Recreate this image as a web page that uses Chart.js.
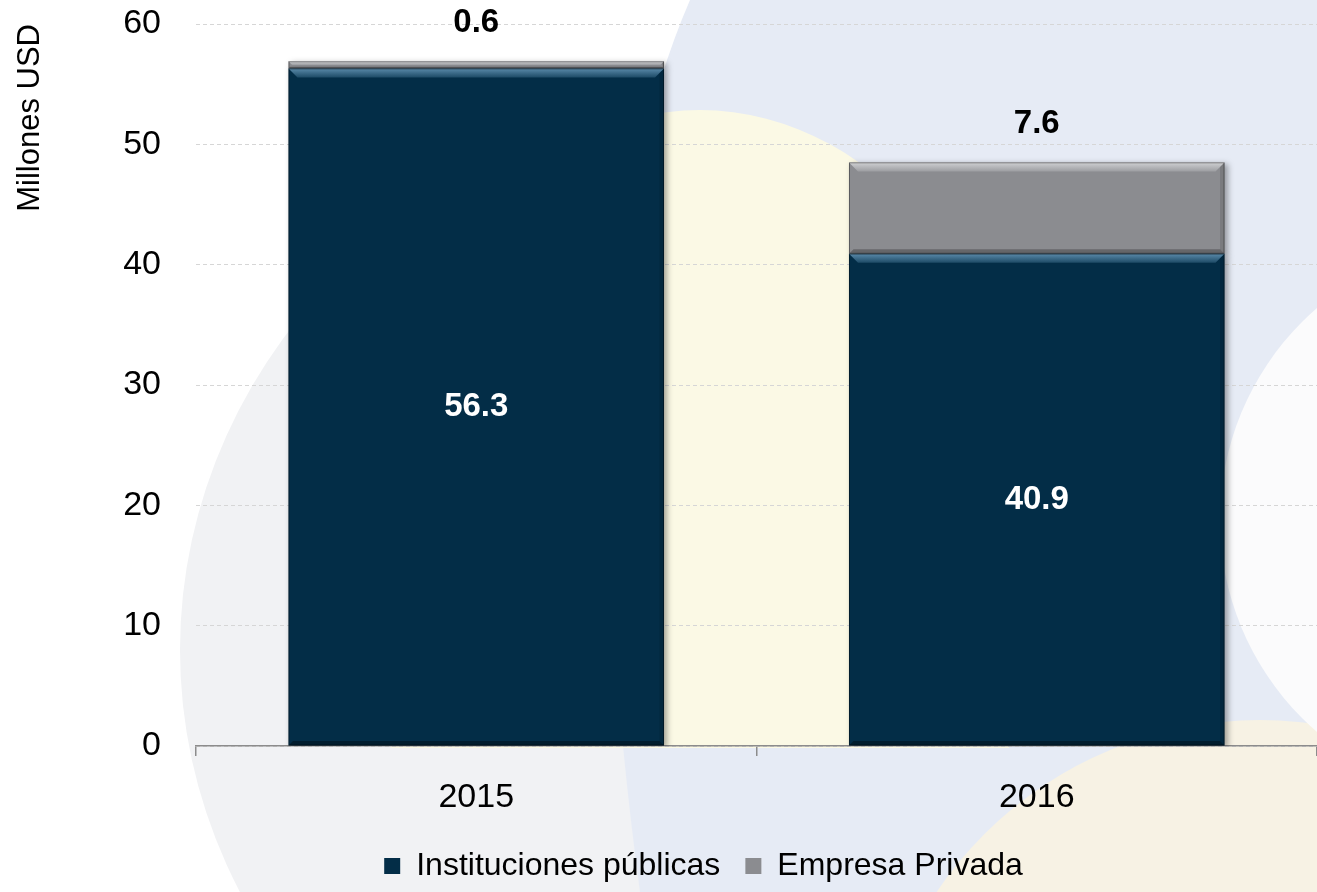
<!DOCTYPE html>
<html>
<head>
<meta charset="utf-8">
<script src="https://cdn.jsdelivr.net/npm/chart.js@4.4.1/dist/chart.umd.min.js"></script>
<style>
  html, body { margin: 0; padding: 0; background: #fff; }
  #wrap { width: 1317px; height: 892px; }
</style>
</head>
<body>
<div id="wrap"><canvas id="chart"></canvas></div>
<script>
const YEARS = ['2015', '2016'];
const PUBLICAS = [56.3, 40.9];
const PRIVADA = [0.6, 7.6];
const SERIES_NAMES = ['Instituciones públicas', 'Empresa Privada'];
const Y_MAX = 60;
const Y_STEP = 10;

const FONT = "'Liberation Sans Narrow', 'Arial Narrow', 'Liberation Sans', sans-serif";
const NAVY = '#032d47';
const GRAY = '#8b8c90';

// fondo decorativo (aprox. de la plantilla)
const bgPlugin = {
  id: 'bg',
  beforeDraw(chart){
    const {ctx, width, height} = chart;
    ctx.save();
    ctx.fillStyle = '#ffffff';
    ctx.fillRect(0, 0, width, height);

    ctx.fillStyle = '#f1f2f4';
    ctx.beginPath(); ctx.ellipse(790, 650, 610, 560, 0, 0, Math.PI*2); ctx.fill();

    ctx.fillStyle = '#e6ebf5';
    ctx.beginPath();
    ctx.moveTo(690, 0); ctx.lineTo(width, 0); ctx.lineTo(width, height); ctx.lineTo(640, height);
    ctx.quadraticCurveTo(560, 300, 690, 0);
    ctx.fill();

    ctx.save();
    ctx.beginPath(); ctx.rect(0, 0, width, 748); ctx.clip();
    ctx.fillStyle = '#fbf9e5';
    ctx.beginPath(); ctx.ellipse(700, 560, 340, 450, 0, 0, Math.PI*2); ctx.fill();
    ctx.restore();

    ctx.fillStyle = '#f7f2e4';
    ctx.beginPath(); ctx.arc(1260, 1110, 390, 0, Math.PI*2); ctx.fill();

    ctx.fillStyle = '#fbfbfc';
    ctx.beginPath(); ctx.arc(1500, 520, 280, 0, Math.PI*2); ctx.fill();
    ctx.restore();
  }
};

// sombra + bisel de las barras
const bevelPlugin = {
  id: 'bevel',
  beforeDatasetsDraw(chart){
    const ctx = chart.ctx;
    ctx.save();
    ctx.shadowColor = 'rgba(0,0,0,0.35)';
    ctx.shadowBlur = 6;
    ctx.shadowOffsetX = 3;
    ctx.shadowOffsetY = 2;
  },
  afterDatasetsDraw(chart){
    const ctx = chart.ctx;
    ctx.restore();
    chart.data.datasets.forEach((ds, di) => {
      const light = di === 0 ? ['#5a8aaa', '#1d4a66'] : ['#d0d1d3', '#9d9ea2'];
      const dark = di === 0 ? 'rgba(0,0,0,0.35)' : 'rgba(0,0,0,0.25)';
      chart.getDatasetMeta(di).data.forEach(el => {
        const p = el.getProps(['x', 'y', 'base', 'width'], true);
        const l = p.x - p.width/2, r = p.x + p.width/2;
        const t = Math.min(p.y, p.base), b = Math.max(p.y, p.base);
        const bv = Math.min(9, (b - t)/2);
        if (bv <= 0) return;
        ctx.save();
        const g = ctx.createLinearGradient(0, t, 0, t + bv);
        g.addColorStop(0, light[0]); g.addColorStop(1, light[1]);
        ctx.fillStyle = g;
        ctx.beginPath();
        ctx.moveTo(l, t); ctx.lineTo(r, t); ctx.lineTo(r - bv, t + bv); ctx.lineTo(l + bv, t + bv); ctx.closePath();
        ctx.fill();
        ctx.fillStyle = 'rgba(0,0,0,0.12)';
        ctx.beginPath();
        ctx.moveTo(r, t); ctx.lineTo(r, b); ctx.lineTo(r - bv/2, b - bv/2); ctx.lineTo(r - bv/2, t + bv/2); ctx.closePath();
        ctx.fill();
        ctx.fillStyle = dark;
        ctx.beginPath();
        ctx.moveTo(l, b); ctx.lineTo(r, b); ctx.lineTo(r - bv/2, b - bv/2); ctx.lineTo(l + bv/2, b - bv/2); ctx.closePath();
        ctx.fill();
        ctx.strokeStyle = 'rgba(0,0,0,0.35)';
        ctx.lineWidth = 1;
        ctx.strokeRect(l + 0.5, t + 0.5, p.width - 1, b - t - 1);
        ctx.restore();
      });
    });
  }
};

// etiquetas de valores
const labelPlugin = {
  id: 'valueLabels',
  afterDatasetsDraw(chart){
    const ctx = chart.ctx;
    ctx.save();
    ctx.font = "bold 33px " + FONT;
    ctx.textAlign = 'center';
    ctx.textBaseline = 'middle';
    chart.getDatasetMeta(0).data.forEach((el, i) => {
      const p = el.getProps(['x', 'y', 'base'], true);
      ctx.fillStyle = '#ffffff';
      ctx.fillText(PUBLICAS[i].toFixed(1), p.x, (p.y + p.base)/2);
    });
    chart.getDatasetMeta(1).data.forEach((el, i) => {
      const p = el.getProps(['x', 'y'], true);
      ctx.fillStyle = '#000000';
      ctx.fillText(PRIVADA[i].toFixed(1), p.x, p.y - 38);
    });
    ctx.restore();
  }
};

// la leyenda del original está algo corrida a la derecha
const legendShift = {
  id: 'legendShift',
  afterLayout(chart){ if (chart.legend) chart.legend.left += 90; }
};

new Chart(document.getElementById('chart'), {
  type: 'bar',
  data: {
    labels: YEARS,
    datasets: [
      { label: SERIES_NAMES[0], data: PUBLICAS, backgroundColor: NAVY, borderWidth: 0 },
      { label: SERIES_NAMES[1], data: PRIVADA, backgroundColor: GRAY, borderWidth: 0 }
    ]
  },
  options: {
    responsive: true,
    maintainAspectRatio: false,
    animation: false,
    datasets: { bar: { categoryPercentage: 1, barPercentage: 0.67 } },
    layout: { padding: { top: 24, left: 0, right: 0, bottom: 0 } },
    plugins: {
      legend: {
        position: 'bottom',
        labels: { font: { family: FONT, size: 32 }, color: '#000', boxWidth: 16, boxHeight: 16, padding: 25 }
      },
      tooltip: { enabled: false }
    },
    scales: {
      x: {
        stacked: true,
        afterFit: s => { s.height = 79; },
        border: { display: true, color: '#8c8c8c', width: 1.5 },
        grid: { display: true, drawOnChartArea: false, drawTicks: true, tickLength: 10, color: '#8c8c8c', lineWidth: 1.5, offset: true },
        ticks: { font: { family: FONT, size: 34 }, color: '#000', padding: 21 }
      },
      y: {
        stacked: true,
        min: 0,
        max: Y_MAX,
        afterFit: s => { s.width = 196; },
        border: { display: false, dash: [4, 3] },
        grid: { color: '#d6d6d6', lineWidth: 1, drawTicks: true, tickLength: 33, tickColor: 'rgba(0,0,0,0)' },
        ticks: { stepSize: Y_STEP, font: { family: FONT, size: 34 }, color: '#000', padding: 2 },
        title: { display: true, text: 'Millones USD', align: 'end', font: { family: FONT, size: 31 }, color: '#000', padding: { top: 12, bottom: 0 } }
      }
    }
  },
  plugins: [bgPlugin, bevelPlugin, labelPlugin, legendShift]
});
</script>
</body>
</html>
